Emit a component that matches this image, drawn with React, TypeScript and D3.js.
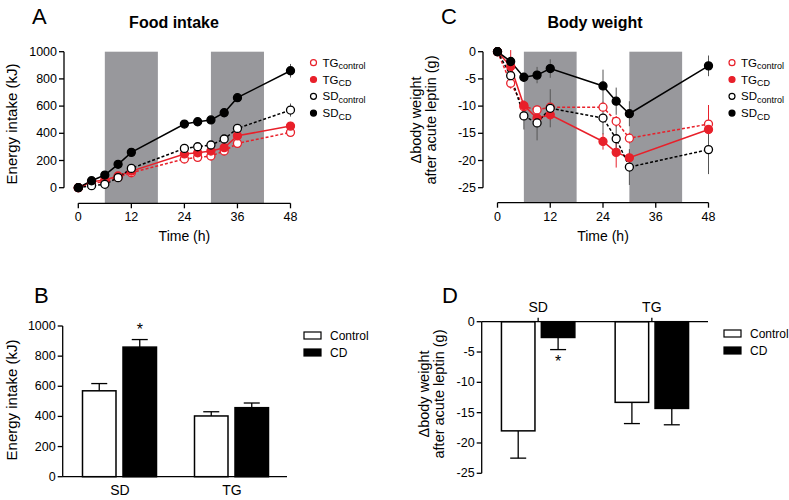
import React from 'react';
import * as d3 from 'd3';

// ---------- data ----------
const timesA = [0, 3, 6, 9, 12, 24, 27, 30, 33, 36, 48];
const sdCdA = [0, 51, 93, 172, 260, 468, 485, 498, 551, 662, 860];
const sdCdAErr = [0, 8, 10, 12, 14, 15, 15, 15, 25, 30, 50];
const sdCtrlA = [0, 15, 25, 74, 142, 289, 301, 314, 358, 436, 571];
const sdCtrlAErr = [0, 6, 8, 10, 12, 15, 15, 15, 20, 25, 48];
const tgCdA = [0, 44, 56, 86, 122, 248, 257, 270, 294, 382, 453];
const tgCdAErr = [0, 6, 8, 10, 12, 14, 14, 15, 18, 25, 31];
const tgCtrlA = [0, 32, 44, 76, 110, 211, 223, 233, 270, 326, 407];
const tgCtrlAErr = [0, 6, 8, 10, 12, 14, 14, 15, 18, 22, 28];

const timesC = [0, 3, 6, 9, 12, 24, 27, 30, 48];
const sdCdC = [0, -1.8, -4.7, -4.3, -3.1, -6.3, -9.1, -11.4, -2.6];
const sdCdCErr = [0, 0.8, 0.8, 1.5, 1.7, 3.0, 2.5, 2.3, 1.9];
const sdCtrlC = [0, -4.4, -11.8, -13.1, -10.4, -12.2, -16.0, -21.2, -18.0];
const sdCtrlCErr = [0, 0.8, 2.5, 3.2, 3.5, 3.0, 2.5, 3.3, 4.5];
const tgCdC = [0, -2.7, -9.9, -12.2, -11.6, -16.5, -18.5, -19.5, -14.3];
const tgCdCErr = [0, 3.0, 1.0, 1.0, 1.0, 1.5, 2.8, 1.0, 4.4];
const tgCtrlC = [0, -5.8, -10.1, -10.7, -10.2, -10.2, -12.8, -15.9, -13.3];
const tgCtrlCErr = [0, 1.0, 0.5, 0.5, 0.5, 0.8, 1.0, 1.0, 3.5];

const darkStart = [6, 30];
const darkEnd = [18, 42];
const timeTicks = [0, 12, 24, 36, 48];
const intakeTicks = [0, 200, 400, 600, 800, 1000];
const weightTicks = [0, -5, -10, -15, -20, -25];

const groups = ['SD', 'TG'];
const conditions = ['Control', 'CD'];
const intakeControl = [570, 403];
const intakeControlErr = [48, 28];
const intakeCD = [860, 458];
const intakeCDErr = [50, 31];
const weightControl = [-18.0, -13.3];
const weightControlErr = [4.5, 3.5];
const weightCD = [-2.6, -14.3];
const weightCDErr = [2.0, 2.7];

const seriesNames = ['TG', 'TG', 'SD', 'SD'];
const seriesSubs = ['control', 'CD', 'control', 'CD'];

// ---------- styles ----------
const FONT = '"Liberation Sans", Arial, Helvetica, sans-serif';
const RED = '#e8202a';
const SHADE = '#98989c';

type Series = { vals: number[]; err: number[]; color: string; errColor: string; open: boolean; dashed: boolean };

function LinePanel(props: {
  times: number[];
  series: Series[];
  x: d3.ScaleLinear<number, number>;
  y: d3.ScaleLinear<number, number>;
  yTicks: number[];
  yAxisX: number;
  xAxisY: number;
  legendX: number;
}) {
  const { times, series, x, y, yTicks, yAxisX, xAxisY, legendX } = props;
  const [y0, y1] = y.range();
  const top = Math.min(y0, y1);
  const bottom = Math.max(y0, y1);
  return (
    <g>
      {darkStart.map((s, i) => (
        <rect key={i} x={x(s)} y={top} width={x(darkEnd[i]) - x(s)} height={xAxisY - top} fill={SHADE} />
      ))}
      {/* y axis */}
      <line x1={yAxisX} x2={yAxisX} y1={top} y2={bottom} stroke="#000" strokeWidth={1.3} />
      {yTicks.map((t) => (
        <g key={t}>
          <line x1={yAxisX - 5} x2={yAxisX} y1={y(t)} y2={y(t)} stroke="#000" strokeWidth={1.3} />
          <text x={yAxisX - 7} y={y(t)} textAnchor="end" dominantBaseline="central" fontSize={12.5}>
            {t}
          </text>
        </g>
      ))}
      {/* x axis */}
      <line x1={x(0)} x2={x(48)} y1={xAxisY} y2={xAxisY} stroke="#000" strokeWidth={1.3} />
      {timeTicks.map((t) => (
        <g key={t}>
          <line x1={x(t)} x2={x(t)} y1={xAxisY} y2={xAxisY + 5} stroke="#000" strokeWidth={1.3} />
          <text x={x(t)} y={xAxisY + 14} textAnchor="middle" dominantBaseline="central" fontSize={12.5}>
            {t}
          </text>
        </g>
      ))}
      <text x={(x(0) + x(48)) / 2} y={xAxisY + 33} textAnchor="middle" dominantBaseline="central" fontSize={14}>
        Time (h)
      </text>
      {/* series */}
      {series.map((s, si) => {
        const line = d3
          .line<number>()
          .x((_, i) => x(times[i]))
          .y((d) => y(d));
        return (
          <g key={si}>
            {s.vals.map((v, i) =>
              s.err[i] > 0 ? (
                <line
                  key={i}
                  x1={x(times[i])}
                  x2={x(times[i])}
                  y1={y(v - s.err[i])}
                  y2={y(v + s.err[i])}
                  stroke={s.errColor}
                  strokeWidth={1}
                />
              ) : null
            )}
            <path
              d={line(s.vals) || ''}
              fill="none"
              stroke={s.color}
              strokeWidth={1.5}
              strokeDasharray={s.dashed ? '3,2' : undefined}
            />
          </g>
        );
      })}
      {series.map((s, si) => (
        <g key={'m' + si}>
          {s.vals.map((v, i) => (
            <circle
              key={i}
              cx={x(times[i])}
              cy={y(v)}
              r={4}
              fill={s.open ? '#fff' : s.color}
              stroke={s.color}
              strokeWidth={1.3}
            />
          ))}
        </g>
      ))}
      {/* legend */}
      {seriesNames.map((n, i) => {
        const s = series[i];
        const ly = 62.7 + i * 16.8;
        return (
          <g key={'l' + i}>
            <circle cx={legendX} cy={ly} r={3} fill={s.open ? '#fff' : s.color} stroke={s.color} strokeWidth={1.2} />
            <text x={legendX + 9} y={ly} dominantBaseline="central" fontSize={11.5}>
              <tspan>{n}</tspan>
              <tspan dy={3.5} fontSize={9}>
                {seriesSubs[i]}
              </tspan>
            </text>
          </g>
        );
      })}
    </g>
  );
}

function BarLegend(props: { x: number; y: number }) {
  const { x, y } = props;
  return (
    <g>
      {conditions.map((c, i) => (
        <g key={c}>
          <rect
            x={x}
            y={y + i * 17 - 3}
            width={17}
            height={7}
            fill={i === 0 ? '#fff' : '#000'}
            stroke="#000"
            strokeWidth={1.2}
          />
          <text x={x + 26} y={y + i * 17 + 0.5} dominantBaseline="central" fontSize={12}>
            {c}
          </text>
        </g>
      ))}
    </g>
  );
}

export default function App() {
  // Panel A
  const xA = d3.scaleLinear().domain([0, 48]).range([78.3, 290.5]);
  const yA = d3.scaleLinear().domain([0, 1000]).range([187.7, 51.7]);
  // Panel C
  const xC = d3.scaleLinear().domain([0, 48]).range([497.5, 708.5]);
  const yC = d3.scaleLinear().domain([-25, 0]).range([187.7, 51.7]);

  const GREY = '#555';
  const seriesA: Series[] = [
    { vals: tgCtrlA, err: tgCtrlAErr, color: RED, errColor: RED, open: true, dashed: true },
    { vals: tgCdA, err: tgCdAErr, color: RED, errColor: RED, open: false, dashed: false },
    { vals: sdCtrlA, err: sdCtrlAErr, color: '#000', errColor: GREY, open: true, dashed: true },
    { vals: sdCdA, err: sdCdAErr, color: '#000', errColor: GREY, open: false, dashed: false },
  ];
  const seriesC: Series[] = [
    { vals: tgCtrlC, err: tgCtrlCErr, color: RED, errColor: RED, open: true, dashed: true },
    { vals: tgCdC, err: tgCdCErr, color: RED, errColor: RED, open: false, dashed: false },
    { vals: sdCtrlC, err: sdCtrlCErr, color: '#000', errColor: GREY, open: true, dashed: true },
    { vals: sdCdC, err: sdCdCErr, color: '#000', errColor: GREY, open: false, dashed: false },
  ];

  // Panel B
  const xB = d3.scaleBand<string>().domain(groups).range([64, 288]).paddingInner(0).paddingOuter(0);
  const yB = d3.scaleLinear().domain([0, 1000]).range([476.7, 326]);
  const innerB = d3.scaleBand<string>().domain(conditions).range([-37.5, 36.5]).paddingInner(0.173);
  const bAxisX = 62.7;

  // Panel D
  const xD = d3.scaleBand<string>().domain(groups).range([481.3, 708.7]).paddingInner(0).paddingOuter(0);
  const yD = d3.scaleLinear().domain([-25, 0]).range([473.3, 321.7]);
  const innerD = d3.scaleBand<string>().domain(conditions).range([-36.7, 36.7]).paddingInner(0.16);
  const dAxisX = 481.7;

  const intakeVals = [intakeControl, intakeCD];
  const intakeErrs = [intakeControlErr, intakeCDErr];
  const weightVals = [weightControl, weightCD];
  const weightErrs = [weightControlErr, weightCDErr];

  return (
    <svg
      width={789}
      height={500}
      style={{ position: 'absolute', left: 0, top: 0, background: '#fff' }}
      fontFamily={FONT}
    >
      <rect width={789} height={500} fill="#fff" />
      {/* Panel letters & titles */}
      <text x={32} y={24} fontSize={22}>A</text>
      <text x={174} y={28} fontSize={16} fontWeight="bold" textAnchor="middle">Food intake</text>
      <text x={441} y={24} fontSize={22}>C</text>
      <text x={595} y={28} fontSize={16} fontWeight="bold" textAnchor="middle">Body weight</text>
      <text x={34} y={303} fontSize={22}>B</text>
      <text x={442} y={303} fontSize={22}>D</text>

      {/* Panel A */}
      <LinePanel times={timesA} series={seriesA} x={xA} y={yA} yTicks={intakeTicks} yAxisX={64} xAxisY={203.3} legendX={313.5} />
      <text transform="translate(11,124) rotate(-90)" textAnchor="middle" dominantBaseline="central" fontSize={15}>
        Energy intake (kJ)
      </text>

      {/* Panel C */}
      <LinePanel times={timesC} series={seriesC} x={xC} y={yC} yTicks={weightTicks} yAxisX={483} xAxisY={202.7} legendX={732} />
      <text transform="translate(416,120) rotate(-90)" textAnchor="middle" dominantBaseline="central" fontSize={14.5}>
        Δbody weight
      </text>
      <text transform="translate(431,120) rotate(-90)" textAnchor="middle" dominantBaseline="central" fontSize={14.5}>
        after acute leptin (g)
      </text>

      {/* Panel B */}
      <g>
        {groups.map((g, gi) => {
          const cx = (xB(g) as number) + xB.bandwidth() / 2;
          return (
            <g key={g}>
              {conditions.map((c, ci) => {
                const bx = cx + (innerB(c) as number);
                const bw = innerB.bandwidth();
                const v = intakeVals[ci][gi];
                const e = intakeErrs[ci][gi];
                return (
                  <g key={c}>
                    <line x1={bx + bw / 2} x2={bx + bw / 2} y1={yB(v)} y2={yB(v + e)} stroke="#000" strokeWidth={1.3} />
                    <line x1={bx + bw / 2 - 8} x2={bx + bw / 2 + 8} y1={yB(v + e)} y2={yB(v + e)} stroke="#000" strokeWidth={1.3} />
                    <rect x={bx} y={yB(v)} width={bw} height={yB(0) - yB(v)} fill={ci === 0 ? '#fff' : '#000'} stroke="#000" strokeWidth={1.5} />
                  </g>
                );
              })}
              <text x={cx} y={490} textAnchor="middle" dominantBaseline="central" fontSize={14}>
                {g}
              </text>
            </g>
          );
        })}
        <line x1={bAxisX} x2={bAxisX} y1={yB(1000)} y2={yB(0)} stroke="#000" strokeWidth={1.3} />
        {intakeTicks.map((t) => (
          <g key={t}>
            <line x1={bAxisX - 5} x2={bAxisX} y1={yB(t)} y2={yB(t)} stroke="#000" strokeWidth={1.3} />
            <text x={bAxisX - 7} y={yB(t)} textAnchor="end" dominantBaseline="central" fontSize={12.5}>
              {t}
            </text>
          </g>
        ))}
        <line x1={bAxisX} x2={287} y1={yB(0)} y2={yB(0)} stroke="#000" strokeWidth={1.3} />
        <text
          x={(xB('SD') as number) + xB.bandwidth() / 2 + (innerB('CD') as number) + innerB.bandwidth() / 2}
          y={yB(intakeCD[0] + intakeCDErr[0]) - 10}
          textAnchor="middle"
          dominantBaseline="central"
          fontSize={16}
        >
          *
        </text>
        <text transform="translate(11,400) rotate(-90)" textAnchor="middle" dominantBaseline="central" fontSize={15}>
          Energy intake (kJ)
        </text>
        <BarLegend x={304} y={335} />
      </g>

      {/* Panel D */}
      <g>
        {groups.map((g, gi) => {
          const cx = (xD(g) as number) + xD.bandwidth() / 2;
          return (
            <g key={g}>
              {conditions.map((c, ci) => {
                const bx = cx + (innerD(c) as number);
                const bw = innerD.bandwidth();
                const v = weightVals[ci][gi];
                const e = weightErrs[ci][gi];
                return (
                  <g key={c}>
                    <line x1={bx + bw / 2} x2={bx + bw / 2} y1={yD(v)} y2={yD(v - e)} stroke="#000" strokeWidth={1.3} />
                    <line x1={bx + bw / 2 - 8} x2={bx + bw / 2 + 8} y1={yD(v - e)} y2={yD(v - e)} stroke="#000" strokeWidth={1.3} />
                    <rect x={bx} y={yD(0)} width={bw} height={yD(v) - yD(0)} fill={ci === 0 ? '#fff' : '#000'} stroke="#000" strokeWidth={1.5} />
                  </g>
                );
              })}
              <line x1={cx} x2={cx} y1={yD(0) - 4} y2={yD(0)} stroke="#000" strokeWidth={1.3} />
              <text x={cx} y={307} textAnchor="middle" dominantBaseline="central" fontSize={14}>
                {g}
              </text>
            </g>
          );
        })}
        <line x1={dAxisX} x2={dAxisX} y1={yD(0)} y2={yD(-25)} stroke="#000" strokeWidth={1.3} />
        {weightTicks.map((t) => (
          <g key={t}>
            <line x1={dAxisX - 5} x2={dAxisX} y1={yD(t)} y2={yD(t)} stroke="#000" strokeWidth={1.3} />
            <text x={dAxisX - 7} y={yD(t)} textAnchor="end" dominantBaseline="central" fontSize={12.5}>
              {t}
            </text>
          </g>
        ))}
        <line x1={dAxisX} x2={708} y1={yD(0)} y2={yD(0)} stroke="#000" strokeWidth={1.3} />
        <text
          x={(xD('SD') as number) + xD.bandwidth() / 2 + (innerD('CD') as number) + innerD.bandwidth() / 2}
          y={yD(weightCD[0] - weightCDErr[0]) + 12}
          textAnchor="middle"
          dominantBaseline="central"
          fontSize={16}
        >
          *
        </text>
        <text transform="translate(424,394) rotate(-90)" textAnchor="middle" dominantBaseline="central" fontSize={14.5}>
          Δbody weight
        </text>
        <text transform="translate(439,394) rotate(-90)" textAnchor="middle" dominantBaseline="central" fontSize={14.5}>
          after acute leptin (g)
        </text>
        <BarLegend x={724} y={333} />
      </g>
    </svg>
  );
}
